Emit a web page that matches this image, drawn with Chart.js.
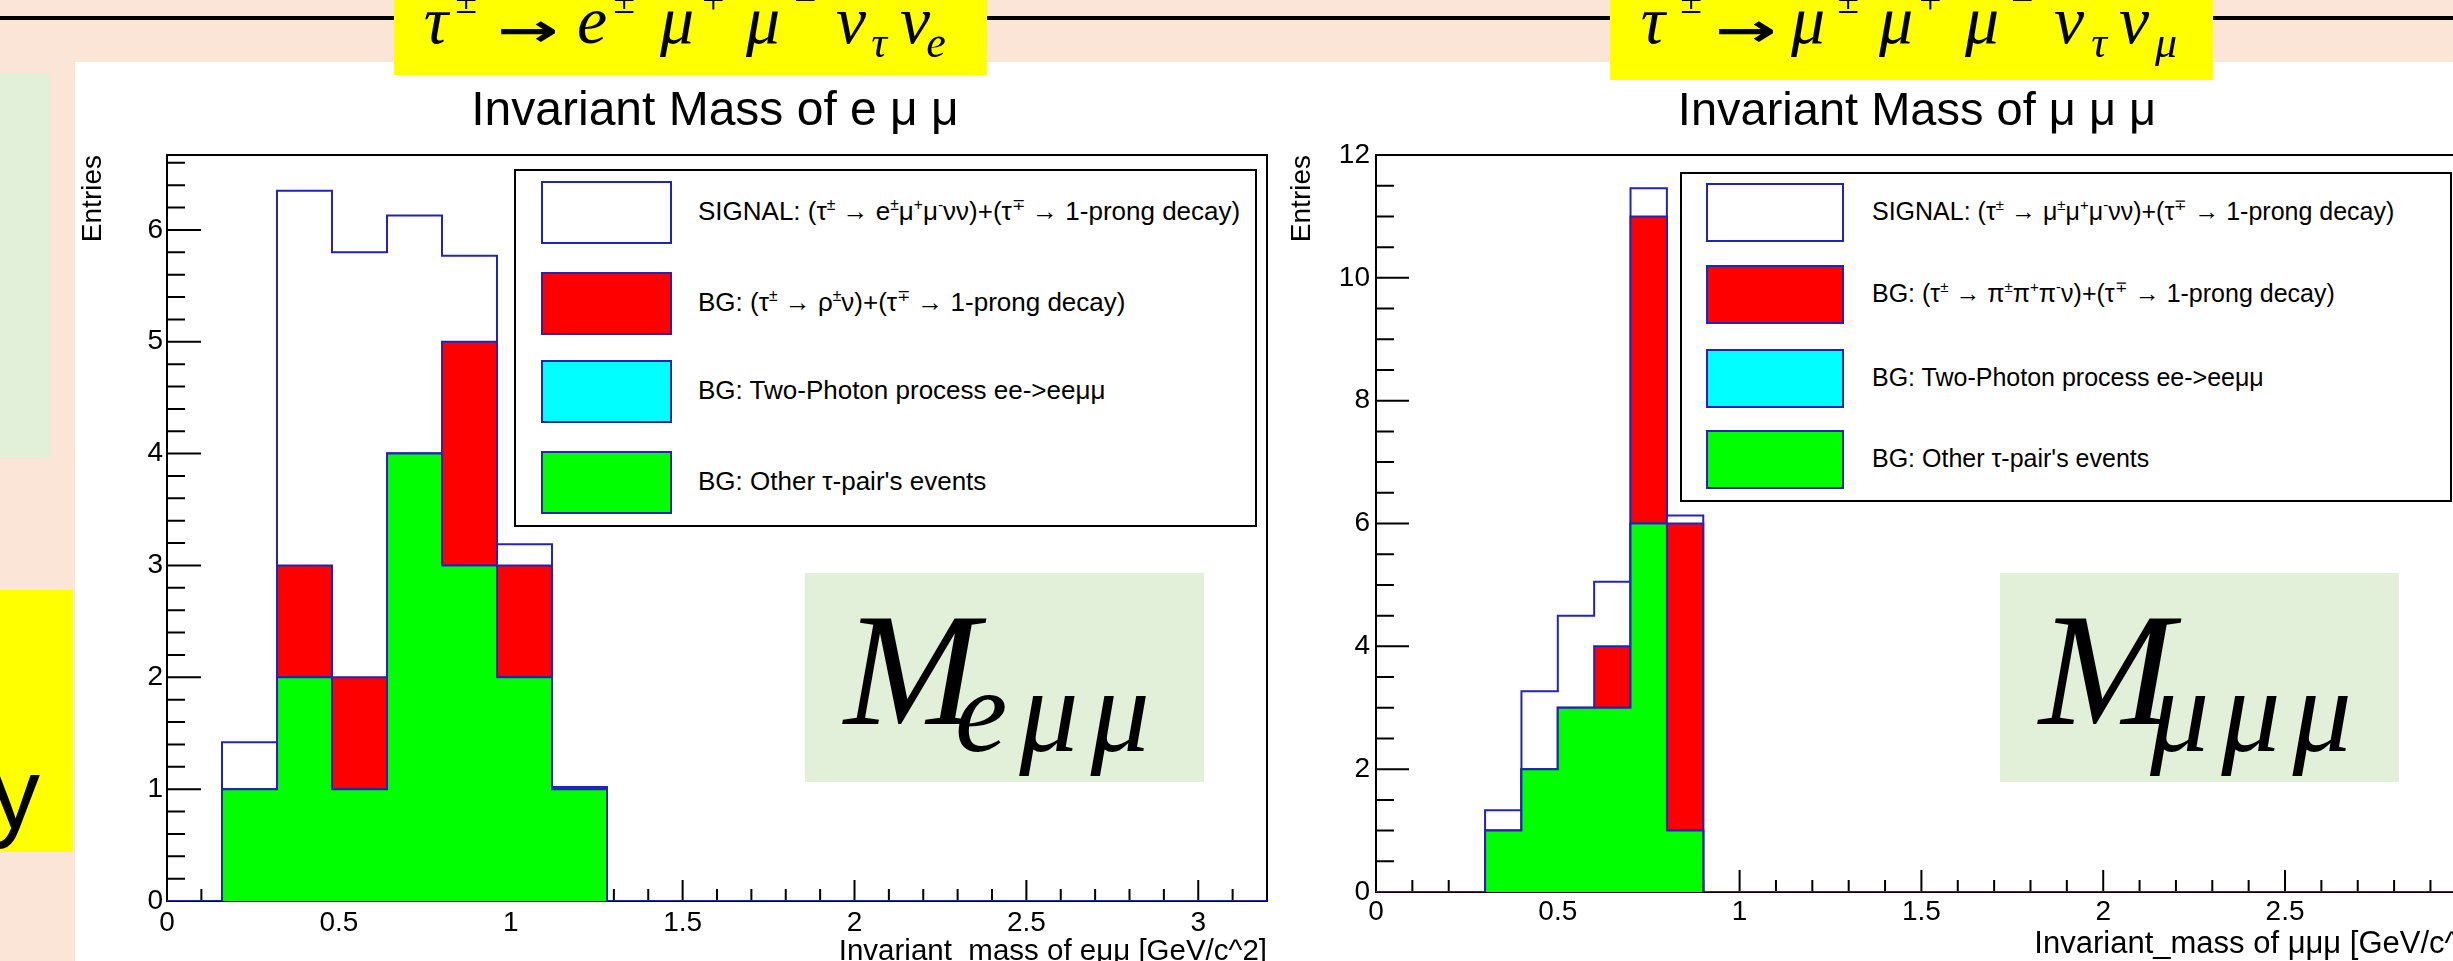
<!DOCTYPE html>
<html>
<head>
<meta charset="utf-8">
<title>Invariant mass</title>
<script src="https://cdn.jsdelivr.net/npm/chart.js@4.4.1/dist/chart.umd.min.js"></script>
<style>
  html, body { margin: 0; padding: 0; }
  body { position: relative; width: 2453px; height: 961px; overflow: hidden; background: #fbe5d6;
         font-family: "Liberation Sans", Arial, sans-serif; }
  .abs { position: absolute; }
  .panel { left: 75px; top: 62px; width: 2378px; height: 899px; background: #fff; }
  .rule { left: 0; top: 16px; width: 2453px; height: 4px; background: #000; }
  .yellow { background: #ffff00; }
  .pale { background: #e2f0d9; }
  canvas { position: absolute; top: 0; }
  .legend { background: #fff; border: 2px solid #000; box-sizing: border-box; }
  .swatch { border: 2px solid #2424b4; box-sizing: border-box; }
  .ltext { line-height: 1; white-space: nowrap; color: #000; }
  .ltext sup { font-size: 0.6em; position: relative; top: -0.1em; vertical-align: top; line-height: 1; }
  .g { position: absolute; width: 100px; text-align: center; white-space: nowrap; color: #000; }
  .math { font-family: "Liberation Serif", serif; font-style: italic; }
  .arrow { font-family: "DejaVu Sans", sans-serif; font-weight: bold; transform: scaleX(1.6); }
</style>
</head>
<body>
<div class="abs panel"></div>
<div class="abs rule"></div>
<div class="abs yellow" style="left:394px;top:0;width:593px;height:75px"></div>
<div class="abs yellow" style="left:1610px;top:0;width:603px;height:80px"></div>
<div class="abs pale" style="left:0;top:73px;width:50px;height:384px"></div>
<div class="abs yellow" style="left:0;top:590px;width:73px;height:262px"></div>
<div class="abs" style="left:-10px;top:743px;font-size:100px;line-height:100px;color:#000">y</div>

<canvas id="left" width="1430" height="1001" style="left:0;width:1430px;height:1001px"></canvas>
<canvas id="right" width="1294" height="1001" style="left:1270px;width:1294px;height:1001px"></canvas>

<script>
const BLUE = '#2424b4';
Chart.defaults.font.family = '"Liberation Sans", Arial, sans-serif';

// left: tau -> e mu mu nu nu, 0.16 GeV bins
const leftBinLow = [0.16, 0.32, 0.48, 0.64, 0.80, 0.96, 1.12];
const leftBinWidth = 0.16;
const leftSignal = [0.42, 3.35, 3.80, 2.13, 0.77, 0.19, 0.02];
const leftRho = [0, 1, 1, 0, 2, 1, 0];
const leftTwoPhoton = [0, 0, 0, 0, 0, 0, 0];
const leftOther = [1, 2, 1, 4, 3, 2, 1];

// right: tau -> mu mu mu nu nu, 0.1 GeV bins
const rightBinLow = [0.3, 0.4, 0.5, 0.6, 0.7, 0.8];
const rightBinWidth = 0.1;
const rightSignal = [0.33, 1.27, 1.50, 1.05, 0.46, 0.13];
const rightThreePi = [0, 0, 0, 1, 5, 5];
const rightTwoPhoton = [0, 0, 0, 0, 0, 0];
const rightOther = [1, 2, 3, 3, 6, 1];

const xTicks = [0, 0.5, 1, 1.5, 2, 2.5, 3];
const leftYTicks = [0, 1, 2, 3, 4, 5, 6];
const rightYTicks = [0, 2, 4, 6, 8, 10, 12];

const seriesColors = ['#ffffff', '#ff0000', '#00ffff', '#00ff00'];
const leftNames = [
  'SIGNAL: (τ<sup>±</sup> → e<sup>±</sup>μ<sup>+</sup>μ<sup>-</sup>νν)+(τ<sup>∓</sup> → 1-prong decay)',
  'BG: (τ<sup>±</sup> → ρ<sup>±</sup>ν)+(τ<sup>∓</sup> → 1-prong decay)',
  'BG: Two-Photon process ee-&gt;eeμμ',
  "BG: Other τ-pair's events"
];
const rightNames = [
  'SIGNAL: (τ<sup>±</sup> → μ<sup>±</sup>μ<sup>+</sup>μ<sup>-</sup>νν)+(τ<sup>∓</sup> → 1-prong decay)',
  'BG: (τ<sup>±</sup> → π<sup>±</sup>π<sup>+</sup>π<sup>-</sup>ν)+(τ<sup>∓</sup> → 1-prong decay)',
  'BG: Two-Photon process ee-&gt;eeμμ',
  "BG: Other τ-pair's events"
];

// ROOT style: frame plus ticks inside it, drawn under the histograms
const rootAxes = {
  id: 'rootAxes',
  beforeDatasetsDraw(chart, args, opt) {
    const { ctx, chartArea: a } = chart;
    const { x, y } = chart.scales;
    const isMajor = (s, v) => s.ticks.some(t => Math.abs(t.value - v) < 1e-6);
    ctx.save();
    ctx.strokeStyle = '#000';
    ctx.lineWidth = 2;
    ctx.strokeRect(a.left, a.top, a.width, a.height);
    ctx.beginPath();
    for (let i = 0; i * opt.xStep <= x.max + 1e-9; i++) {
      const v = i * opt.xStep, px = x.getPixelForValue(v);
      const len = isMajor(x, v) ? opt.xMajor : opt.xMinor;
      ctx.moveTo(px, a.bottom);
      ctx.lineTo(px, a.bottom - len);
    }
    for (let i = 0; i * opt.yStep <= y.max + 1e-9; i++) {
      const v = i * opt.yStep, py = y.getPixelForValue(v);
      const len = isMajor(y, v) ? opt.yMajor : opt.yMinor;
      ctx.moveTo(a.left, py);
      ctx.lineTo(a.left + len, py);
    }
    ctx.stroke();
    ctx.restore();
  }
};

// histogram outline: rise at each low edge, run flat to the bin's high edge
function stepPoints(lows, width, vals, xMax) {
  const pts = [{ x: 0, y: 0 }, { x: lows[0], y: 0 }];
  lows.forEach((lo, i) => pts.push({ x: lo + width, y: vals[i] }));
  pts.push({ x: xMax, y: 0 });
  return pts;
}

function histogram(id, c) {
  const other = c.layers[3];
  const withTwoPhoton = other.map((v, i) => v + c.layers[2][i]);
  const withRed = withTwoPhoton.map((v, i) => v + c.layers[1][i]);
  const total = withRed.map((v, i) => v + c.layers[0][i]);
  const stacked = [total, withRed, withTwoPhoton, other];

  const datasets = stacked.map((vals, k) => ({
    data: stepPoints(c.lows, c.width, vals, c.xMax),
    stepped: 'after',
    fill: 'origin',
    backgroundColor: seriesColors[k],
    borderColor: BLUE,
    borderWidth: 2,
    pointRadius: 0,
    order: 4 - k
  }));

  const fmt = v => String(Math.round(v * 100) / 100);

  return new Chart(document.getElementById(id), {
    type: 'line',
    data: { datasets },
    plugins: [rootAxes],
    options: {
      responsive: false,
      animation: false,
      events: [],
      layout: { padding: 0 },
      plugins: {
        legend: { display: false },
        tooltip: { enabled: false },
        title: {
          display: true, text: c.title, color: '#000',
          font: { size: c.titleSize, weight: 'normal', lineHeight: 1.2 },
          padding: { top: 112 - c.titleSize * 0.6, bottom: 155 - 112 - c.titleSize * 0.6 }
        },
        rootAxes: c.ticks
      },
      scales: {
        x: {
          type: 'linear', min: 0, max: c.xMax,
          grid: { display: false, drawTicks: false },
          border: { display: false },
          afterBuildTicks: s => { s.ticks = xTicks.map(v => ({ value: v })); },
          afterFit: s => { s.height = c.xAxisHeight; },
          ticks: { color: '#000', font: { size: c.labelSize }, padding: c.xLabelPad,
                   autoSkip: false, maxRotation: 0, callback: fmt },
          title: {
            display: true, text: c.xTitle, align: 'end', color: '#000',
            font: { size: c.xTitleSize, lineHeight: 1.2 },
            padding: { top: 0, bottom: c.xTitlePad }
          }
        },
        y: {
          type: 'linear', min: 0, max: c.yMax,
          grid: { display: false, drawTicks: false },
          border: { display: false },
          afterBuildTicks: s => { s.ticks = c.yTicks.map(v => ({ value: v })); },
          afterFit: s => { s.width = c.yAxisWidth; },
          ticks: { color: '#000', font: { size: c.labelSize }, padding: c.yLabelPad,
                   autoSkip: false, callback: fmt },
          title: {
            display: true, text: 'Entries', align: 'end', color: '#000',
            font: { size: 28, lineHeight: 1.2 },
            padding: { top: c.yTitlePad, bottom: 0 }
          }
        },
        // empty right-hand strip so the title centres on the whole pad like ROOT
        pad: {
          type: 'linear', position: 'right', display: true,
          grid: { display: false, drawTicks: false },
          border: { display: false },
          ticks: { display: false },
          afterFit: s => { s.width = c.padRight; }
        }
      }
    }
  });
}

histogram('left', {
  lows: leftBinLow, width: leftBinWidth,
  layers: [leftSignal, leftRho, leftTwoPhoton, leftOther],
  xMax: 3.2, yMax: 6.67, yTicks: leftYTicks,
  title: 'Invariant Mass of e μ μ', titleSize: 48,
  xTitle: 'Invariant_mass of eμμ [GeV/c^2]', xTitleSize: 29.5, xTitlePad: 31.3,
  padRight: 163, yAxisWidth: 167, xAxisHeight: 100,
  labelSize: 28, xLabelPad: 5, yLabelPad: 4, yTitlePad: 76.5,
  ticks: { xStep: 0.1, yStep: 0.2, xMajor: 21, xMinor: 12, yMajor: 34, yMinor: 18 }
});

histogram('right', {
  lows: rightBinLow, width: rightBinWidth,
  layers: [rightSignal, rightThreePi, rightTwoPhoton, rightOther],
  xMax: 3.05, yMax: 12, yTicks: rightYTicks,
  title: 'Invariant Mass of μ μ μ', titleSize: 47,
  xTitle: 'Invariant_mass of μμμ [GeV/c^2]', xTitleSize: 31, xTitlePad: 38.4,
  padRight: 79, yAxisWidth: 106, xAxisHeight: 109,
  labelSize: 28, xLabelPad: 3.2, yLabelPad: 6, yTitlePad: 15.2,
  ticks: { xStep: 0.1, yStep: 0.5, xMajor: 22, xMinor: 12, yMajor: 33, yMinor: 18 }
});

// ROOT legends (HTML overlay)
function legend(names, g) {
  const box = document.createElement('div');
  box.className = 'abs legend';
  Object.assign(box.style, { left: g.x + 'px', top: g.y + 'px', width: g.w + 'px', height: g.h + 'px' });
  document.body.appendChild(box);
  names.forEach((name, k) => {
    const sw = document.createElement('div');
    sw.className = 'abs swatch';
    Object.assign(sw.style, { left: g.swX + 'px', top: g.rowTops[k] + 'px', width: g.swW + 'px',
                              height: g.swH + 'px', background: seriesColors[k] });
    document.body.appendChild(sw);
    const t = document.createElement('div');
    t.className = 'abs ltext';
    t.innerHTML = name;
    Object.assign(t.style, { left: g.textX + 'px', fontSize: g.font + 'px',
                             top: (g.rowTops[k] + g.swH / 2 + 7.6 - 0.8465 * g.font) + 'px' });
    document.body.appendChild(t);
  });
}
legend(leftNames, { x: 514, y: 169, w: 743, h: 358, swX: 541, swW: 131, swH: 63,
                    rowTops: [181, 272, 360, 451], textX: 698, font: 26 });
legend(rightNames, { x: 1680, y: 172, w: 772, h: 330, swX: 1706, swW: 138, swH: 59,
                     rowTops: [183, 265, 349, 430], textX: 1872, font: 25 });

// slide annotations
function glyph(text, cx, base, size, cls) {
  const d = document.createElement('div');
  d.className = 'g ' + cls;
  d.textContent = text;
  Object.assign(d.style, { left: (cx - 50) + 'px', fontSize: size + 'px', lineHeight: size + 'px',
                           top: (base - 0.84 * size) + 'px' });
  document.body.appendChild(d);
}
const kinds = { m: [43, 68, 'math'], sup: [14, 40, 'math'], sub: [58, 44, 'math'], arrow: [46, 46, 'arrow'] };
function equation(items) {
  items.forEach(([t, cx, k]) => glyph(t, cx, kinds[k][0], kinds[k][1], kinds[k][2]));
}
equation([['τ', 436, 'm'], ['±', 466, 'sup'], ['→', 528, 'arrow'], ['e', 592, 'm'], ['±', 624, 'sup'],
          ['μ', 677, 'm'], ['+', 713, 'sup'], ['μ', 763, 'm'], ['−', 805, 'sup'], ['ν', 851, 'm'],
          ['τ', 879, 'sub'], ['ν', 915, 'm'], ['e', 936, 'sub']]);
equation([['τ', 1653, 'm'], ['±', 1691, 'sup'], ['→', 1746, 'arrow'], ['μ', 1808, 'm'], ['±', 1848, 'sup'],
          ['μ', 1896, 'm'], ['+', 1930, 'sup'], ['μ', 1982, 'm'], ['−', 2022, 'sup'], ['ν', 2069, 'm'],
          ['τ', 2099, 'sub'], ['ν', 2134, 'm'], ['μ', 2166, 'sub']]);

function massBox(x, sub) {
  const b = document.createElement('div');
  b.className = 'abs pale';
  Object.assign(b.style, { left: x + 'px', top: '573px', width: '399px', height: '209px' });
  document.body.appendChild(b);
  glyph('M', x + 89, 725, 162, 'math');
  const s = document.createElement('div');
  s.className = 'g math';
  s.textContent = sub;
  Object.assign(s.style, { left: (x + 150) + 'px', width: '240px', textAlign: 'left', fontSize: '118px',
                           lineHeight: '118px', letterSpacing: '12px', top: (752 - 0.84 * 118) + 'px' });
  document.body.appendChild(s);
}
massBox(805, 'eμμ');
massBox(2000, 'μμμ');
</script>
</body>
</html>
